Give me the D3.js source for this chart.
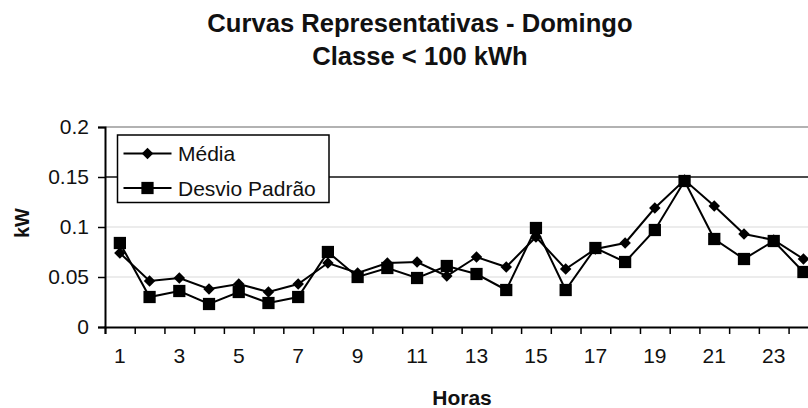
<!DOCTYPE html>
<html>
<head>
<meta charset="utf-8">
<script src="https://cdn.jsdelivr.net/npm/d3@7"></script>
<style>
  html, body { margin: 0; padding: 0; background: #fff; }
  svg { display: block; font-family: "Liberation Sans", Arial, sans-serif; }
</style>
</head>
<body>
<svg id="chart" width="808" height="408"></svg>
<script>
const hours = d3.range(1, 25).map(String);
const media = [0.074, 0.046, 0.049, 0.038, 0.043, 0.035, 0.043, 0.064, 0.054, 0.064, 0.065, 0.051,
               0.070, 0.060, 0.090, 0.058, 0.078, 0.084, 0.119, 0.147, 0.121, 0.093, 0.087, 0.068];
const desvio = [0.084, 0.030, 0.036, 0.023, 0.035, 0.024, 0.030, 0.075, 0.050, 0.059, 0.049, 0.061,
                0.053, 0.037, 0.099, 0.037, 0.079, 0.065, 0.097, 0.146, 0.088, 0.068, 0.086, 0.055];
const xTickLabels = ["1","3","5","7","9","11","13","15","17","19","21","23"];
const yTicks = [0, 0.05, 0.1, 0.15, 0.2];
const seriesNames = ["Média", "Desvio Padrão"];
const titleLines = ["Curvas Representativas - Domingo", "Classe < 100 kWh"];

const svg = d3.select("#chart");
const pLeft = 105, pRight = 818.3, pTop = 127, pBottom = 327;

const x = d3.scaleBand().domain(hours).range([pLeft, pRight]).padding(0);
const xEdge = d3.scaleLinear().domain([0, hours.length]).range([pLeft, pRight]);
const y = d3.scaleLinear().domain([0, 0.2]).range([pBottom, pTop]);
const cx = d => x(d) + x.bandwidth() / 2;

// gridlines
const gridStyle = {0.05: ["#e6e6e6", 1.5], 0.1: ["#e6e6e6", 1.5], 0.15: ["#111", 1.5], 0.2: ["#999", 1.5]};
svg.append("g").selectAll("line").data(yTicks.filter(t => t > 0)).join("line")
  .attr("x1", pLeft).attr("x2", pRight)
  .attr("y1", d => y(d)).attr("y2", d => y(d))
  .attr("stroke", d => gridStyle[d][0]).attr("stroke-width", d => gridStyle[d][1]);

// y axis
const yAxis = svg.append("g").attr("transform", `translate(${pLeft},0)`)
  .call(d3.axisLeft(y).tickValues(yTicks).tickSize(7).tickPadding(9)
    .tickFormat(d => String(+d.toFixed(2))));
yAxis.select(".domain").attr("stroke", "#000").attr("stroke-width", 2);
yAxis.selectAll(".tick line").attr("stroke", "#000").attr("stroke-width", 1.5);
yAxis.selectAll("text").attr("font-size", 21).attr("fill", "#111")
  .attr("font-family", "Liberation Sans, Arial, sans-serif");

// x axis ticks at category boundaries
const xAxis = svg.append("g").attr("transform", `translate(0,${pBottom})`)
  .call(d3.axisBottom(xEdge).tickValues(d3.range(0, hours.length + 1)).tickSize(7).tickFormat(""));
xAxis.select(".domain").attr("stroke", "#000").attr("stroke-width", 2);
xAxis.selectAll(".tick line").attr("stroke", "#000").attr("stroke-width", 1.5);

// x labels
const xLab = svg.append("g").attr("transform", `translate(0,${pBottom})`)
  .call(d3.axisBottom(x).tickValues(xTickLabels).tickSize(0).tickPadding(21));
xLab.select(".domain").remove();
xLab.selectAll("text").attr("font-size", 21).attr("fill", "#111")
  .attr("font-family", "Liberation Sans, Arial, sans-serif");

// lines
const line = d3.line().x((d, i) => cx(hours[i])).y(d => y(d));
const data = [media, desvio];
svg.append("g").selectAll("path").data(data).join("path")
  .attr("d", line).attr("fill", "none").attr("stroke", "#000").attr("stroke-width", 2);

const diamondSym = d3.symbol().type(d3.symbolSquare).size(66);
const squareSym = d3.symbol().type(d3.symbolSquare).size(150);

svg.append("g").selectAll("path").data(media).join("path")
  .attr("transform", (d, i) => `translate(${cx(hours[i])},${y(d)}) rotate(45)`)
  .attr("d", diamondSym).attr("fill", "#000");
svg.append("g").selectAll("path").data(desvio).join("path")
  .attr("transform", (d, i) => `translate(${cx(hours[i])},${y(d)})`)
  .attr("d", squareSym).attr("fill", "#000");

// legend
const lg = svg.append("g");
lg.append("rect").attr("x", 117.5).attr("y", 135).attr("width", 211.5).attr("height", 67.5)
  .attr("fill", "#fff").attr("stroke", "#000").attr("stroke-width", 1.5);
const rows = [153.5, 188];
seriesNames.forEach((name, i) => {
  lg.append("line").attr("x1", 123.5).attr("x2", 171.5).attr("y1", rows[i]).attr("y2", rows[i])
    .attr("stroke", "#000").attr("stroke-width", 2);
  if (i === 0) {
    lg.append("path").attr("transform", `translate(147.5,${rows[i]}) rotate(45)`)
      .attr("d", diamondSym).attr("fill", "#000");
  } else {
    lg.append("path").attr("transform", `translate(147.5,${rows[i]})`)
      .attr("d", squareSym).attr("fill", "#000");
  }
  lg.append("text").attr("x", 178).attr("y", rows[i] + 7.5).attr("font-size", 21)
    .attr("fill", "#111").text(name);
});

// titles
svg.append("g").selectAll("text").data(titleLines).join("text")
  .attr("x", 420).attr("y", (d, i) => i === 0 ? 31.5 : 65)
  .attr("text-anchor", "middle").attr("font-weight", "bold").attr("font-size", 25.6)
  .attr("fill", "#111").text(d => d);

svg.append("text").attr("x", 462).attr("y", 405).attr("text-anchor", "middle")
  .attr("font-weight", "bold").attr("font-size", 21).attr("fill", "#111").text("Horas");

svg.append("text").attr("transform", "translate(29,223) rotate(-90)")
  .attr("text-anchor", "middle").attr("font-weight", "bold").attr("font-size", 20)
  .attr("fill", "#111").text("kW");
</script>
</body>
</html>
